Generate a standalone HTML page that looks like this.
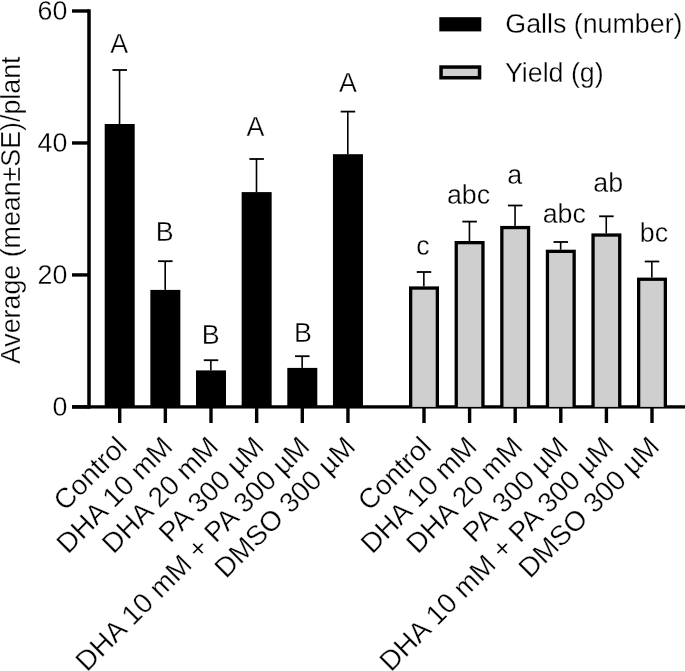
<!DOCTYPE html>
<html><head><meta charset="utf-8"><style>
html,body{margin:0;padding:0;background:#fff;width:685px;height:671px;overflow:hidden}
svg{display:block;will-change:transform;font-family:"Liberation Sans",sans-serif;font-size:26.8px;fill:#000}
text{stroke:#fff;stroke-width:0.3px}
</style></head><body>
<svg width="685" height="671" viewBox="0 0 685 671">
<rect x="87.25" y="9.3" width="3.5" height="399.24999999999994" fill="#000"/>
<rect x="72" y="405.20" width="17.0" height="3.4" fill="#000"/>
<text x="67.4" y="415.90" text-anchor="end">0</text>
<rect x="72" y="273.23" width="17.0" height="3.4" fill="#000"/>
<text x="67.4" y="283.93" text-anchor="end">20</text>
<rect x="72" y="141.27" width="17.0" height="3.4" fill="#000"/>
<text x="67.4" y="151.97" text-anchor="end">40</text>
<rect x="72" y="9.30" width="17.0" height="3.4" fill="#000"/>
<text x="67.4" y="20.00" text-anchor="end">60</text>
<rect x="72" y="405.25" width="613" height="3.3" fill="#000"/>
<rect x="118.00" y="406.9" width="3.4" height="16.10" fill="#000"/>
<rect x="163.65" y="406.9" width="3.4" height="16.10" fill="#000"/>
<rect x="209.30" y="406.9" width="3.4" height="16.10" fill="#000"/>
<rect x="254.95" y="406.9" width="3.4" height="16.10" fill="#000"/>
<rect x="300.60" y="406.9" width="3.4" height="16.10" fill="#000"/>
<rect x="346.25" y="406.9" width="3.4" height="16.10" fill="#000"/>
<rect x="422.30" y="406.9" width="3.4" height="16.10" fill="#000"/>
<rect x="467.90" y="406.9" width="3.4" height="16.10" fill="#000"/>
<rect x="513.50" y="406.9" width="3.4" height="16.10" fill="#000"/>
<rect x="559.10" y="406.9" width="3.4" height="16.10" fill="#000"/>
<rect x="604.70" y="406.9" width="3.4" height="16.10" fill="#000"/>
<rect x="650.30" y="406.9" width="3.4" height="16.10" fill="#000"/>
<rect x="118.75" y="70.00" width="1.6" height="54.00" fill="#000"/>
<rect x="112.45" y="69.10" width="14.5" height="1.8" fill="#000"/>
<rect x="104.70" y="124.00" width="30.0" height="282.90" fill="#000"/>
<text x="119.20" y="53.35" text-anchor="middle">A</text>
<rect x="164.40" y="261.20" width="1.6" height="28.70" fill="#000"/>
<rect x="158.10" y="260.30" width="14.5" height="1.8" fill="#000"/>
<rect x="150.35" y="289.90" width="30.0" height="117.00" fill="#000"/>
<text x="164.80" y="241.40" text-anchor="middle">B</text>
<rect x="210.05" y="360.20" width="1.6" height="10.20" fill="#000"/>
<rect x="203.75" y="359.30" width="14.5" height="1.8" fill="#000"/>
<rect x="196.00" y="370.40" width="30.0" height="36.50" fill="#000"/>
<text x="210.80" y="344.15" text-anchor="middle">B</text>
<rect x="255.70" y="159.00" width="1.6" height="33.10" fill="#000"/>
<rect x="249.40" y="158.10" width="14.5" height="1.8" fill="#000"/>
<rect x="241.65" y="192.10" width="30.0" height="214.80" fill="#000"/>
<text x="255.45" y="136.20" text-anchor="middle">A</text>
<rect x="301.35" y="356.20" width="1.6" height="11.70" fill="#000"/>
<rect x="295.05" y="355.30" width="14.5" height="1.8" fill="#000"/>
<rect x="287.30" y="367.90" width="30.0" height="39.00" fill="#000"/>
<text x="303.00" y="341.95" text-anchor="middle">B</text>
<rect x="347.00" y="111.60" width="1.6" height="42.60" fill="#000"/>
<rect x="340.70" y="110.70" width="14.5" height="1.8" fill="#000"/>
<rect x="332.95" y="154.20" width="30.0" height="252.70" fill="#000"/>
<text x="348.00" y="91.50" text-anchor="middle">A</text>
<rect x="423.05" y="272.00" width="1.6" height="14.40" fill="#000"/>
<rect x="416.75" y="271.10" width="14.5" height="1.8" fill="#000"/>
<rect x="409.00" y="286.40" width="30.0" height="120.50" fill="#000"/>
<rect x="412.30" y="289.70" width="23.40" height="117.20" fill="#cfcfcf"/>
<text x="422.90" y="255.25" text-anchor="middle">c</text>
<rect x="468.65" y="221.60" width="1.6" height="19.40" fill="#000"/>
<rect x="462.35" y="220.70" width="14.5" height="1.8" fill="#000"/>
<rect x="454.60" y="241.00" width="30.0" height="165.90" fill="#000"/>
<rect x="457.90" y="244.30" width="23.40" height="162.60" fill="#cfcfcf"/>
<text x="468.50" y="203.50" text-anchor="middle">abc</text>
<rect x="514.25" y="205.50" width="1.6" height="20.40" fill="#000"/>
<rect x="507.95" y="204.60" width="14.5" height="1.8" fill="#000"/>
<rect x="500.20" y="225.90" width="30.0" height="181.00" fill="#000"/>
<rect x="503.50" y="229.20" width="23.40" height="177.70" fill="#cfcfcf"/>
<text x="514.60" y="183.70" text-anchor="middle">a</text>
<rect x="559.85" y="242.00" width="1.6" height="7.70" fill="#000"/>
<rect x="553.55" y="241.10" width="14.5" height="1.8" fill="#000"/>
<rect x="545.80" y="249.70" width="30.0" height="157.20" fill="#000"/>
<rect x="549.10" y="253.00" width="23.40" height="153.90" fill="#cfcfcf"/>
<text x="564.30" y="223.10" text-anchor="middle">abc</text>
<rect x="605.45" y="216.30" width="1.6" height="17.10" fill="#000"/>
<rect x="599.15" y="215.40" width="14.5" height="1.8" fill="#000"/>
<rect x="591.40" y="233.40" width="30.0" height="173.50" fill="#000"/>
<rect x="594.70" y="236.70" width="23.40" height="170.20" fill="#cfcfcf"/>
<text x="608.20" y="191.80" text-anchor="middle">ab</text>
<rect x="651.05" y="261.50" width="1.6" height="16.10" fill="#000"/>
<rect x="644.75" y="260.60" width="14.5" height="1.8" fill="#000"/>
<rect x="637.00" y="277.60" width="30.0" height="129.30" fill="#000"/>
<rect x="640.30" y="280.90" width="23.40" height="126.00" fill="#cfcfcf"/>
<text x="653.90" y="242.20" text-anchor="middle">bc</text>
<text x="121.90" y="441.70" text-anchor="end" dominant-baseline="central" font-size="27.9" transform="rotate(-45 121.90 441.70)">Control</text>
<text x="167.55" y="441.70" text-anchor="end" dominant-baseline="central" font-size="27.9" transform="rotate(-45 167.55 441.70)">DHA 10 mM</text>
<text x="213.20" y="441.70" text-anchor="end" dominant-baseline="central" font-size="27.9" transform="rotate(-45 213.20 441.70)">DHA 20 mM</text>
<text x="258.85" y="441.70" text-anchor="end" dominant-baseline="central" font-size="27.9" transform="rotate(-45 258.85 441.70)">PA 300 µM</text>
<text x="304.50" y="441.70" text-anchor="end" dominant-baseline="central" font-size="27.9" transform="rotate(-45 304.50 441.70)">DHA 10 mM + PA 300 µM</text>
<text x="350.15" y="441.70" text-anchor="end" dominant-baseline="central" font-size="27.9" transform="rotate(-45 350.15 441.70)">DMSO 300 µM</text>
<text x="426.20" y="441.70" text-anchor="end" dominant-baseline="central" font-size="27.9" transform="rotate(-45 426.20 441.70)">Control</text>
<text x="471.80" y="441.70" text-anchor="end" dominant-baseline="central" font-size="27.9" transform="rotate(-45 471.80 441.70)">DHA 10 mM</text>
<text x="517.40" y="441.70" text-anchor="end" dominant-baseline="central" font-size="27.9" transform="rotate(-45 517.40 441.70)">DHA 20 mM</text>
<text x="563.00" y="441.70" text-anchor="end" dominant-baseline="central" font-size="27.9" transform="rotate(-45 563.00 441.70)">PA 300 µM</text>
<text x="608.60" y="441.70" text-anchor="end" dominant-baseline="central" font-size="27.9" transform="rotate(-45 608.60 441.70)">DHA 10 mM + PA 300 µM</text>
<text x="654.20" y="441.70" text-anchor="end" dominant-baseline="central" font-size="27.9" transform="rotate(-45 654.20 441.70)">DMSO 300 µM</text>
<text x="19.8" y="210.3" text-anchor="middle" transform="rotate(-90 19.8 210.3)">Average (mean±SE)/plant</text>
<rect x="439.3" y="17.2" width="42" height="14.2" fill="#000"/>
<rect x="439.3" y="65.3" width="42" height="14.2" fill="#000"/>
<rect x="442.8" y="68.8" width="35" height="7.2" fill="#cfcfcf"/>
<text x="505.3" y="33.0">Galls (number)</text>
<text x="504.9" y="81.6">Yield (g)</text>
</svg>
</body></html>
